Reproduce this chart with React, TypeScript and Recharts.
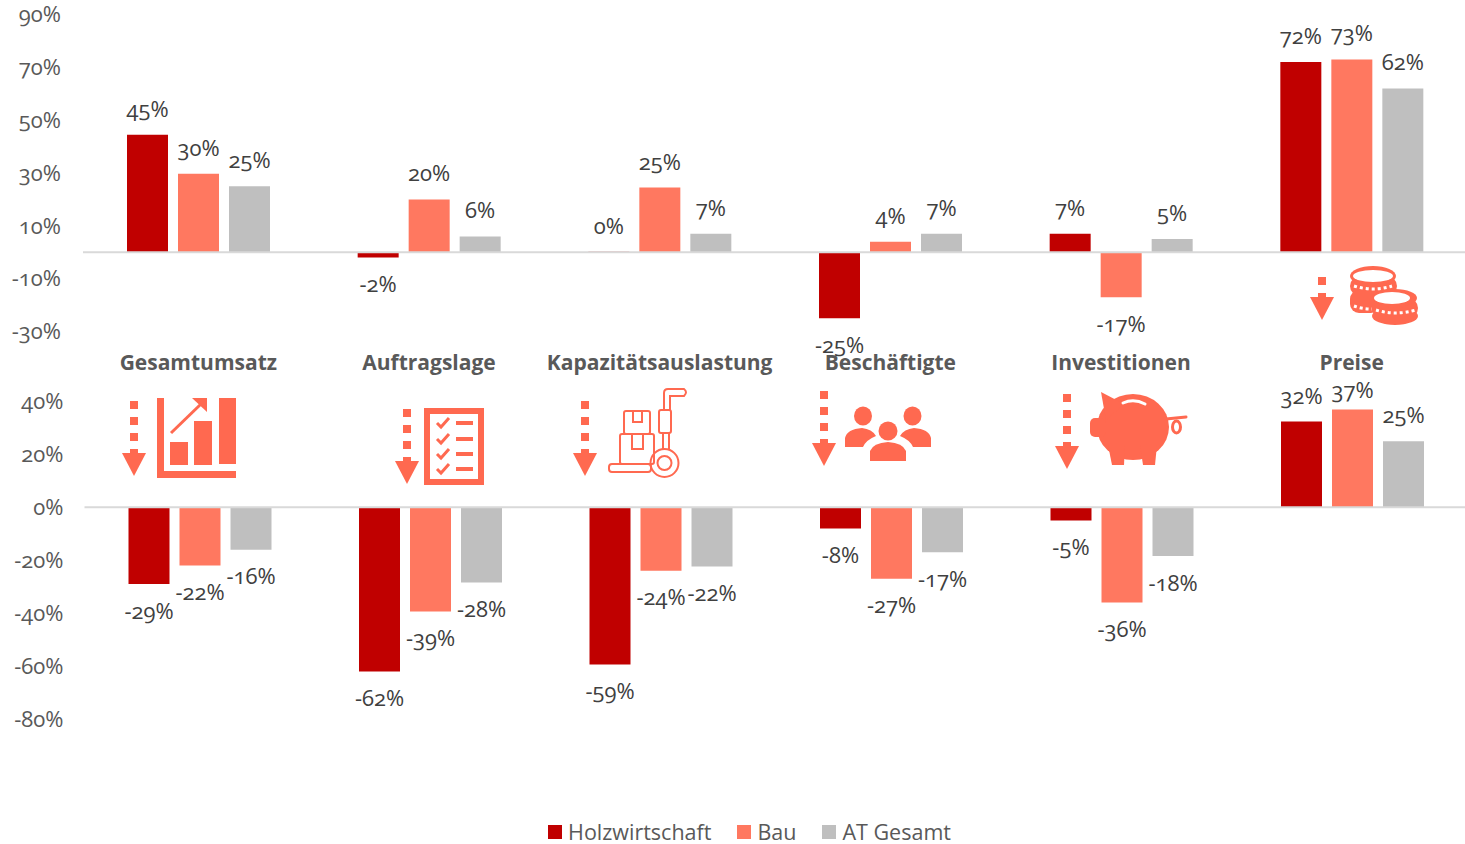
import { BarChart, Bar, XAxis, YAxis, Legend, LabelList, ReferenceLine } from 'recharts'

const categories = ['Gesamtumsatz', 'Auftragslage', 'Kapazitätsauslastung', 'Beschäftigte', 'Investitionen', 'Preise']

const holzTop = [44.5, -2, 0.2, -25, 7, 72]
const bauTop = [29.7, 20, 24.5, 4, -17, 73]
const atTop = [25, 6, 7, 7, 5, 62]
const ticksTop = [-30, -10, 10, 30, 50, 70, 90]

// lower panel
const holzBottom = [-29, -62, -59.4, -8, -5, 32.4]
const bauBottom = [-22, -39.4, -24, -27, -36, 37]
const atBottom = [-16, -28.4, -22.4, -17, -18.4, 25]
const ticksBottom = [-80, -60, -40, -20, 0, 20, 40]

const topData = categories.map((name, i) => ({ name, holz: holzTop[i], bau: bauTop[i], at: atTop[i] }))
const bottomData = categories.map((name, i) => ({ name, holz: holzBottom[i], bau: bauBottom[i], at: atBottom[i] }))

const FONT = '"Open Sans", sans-serif'
const ICON = '#FF6950'
const series = [
  { key: 'holz', name: 'Holzwirtschaft', color: '#C00000' },
  { key: 'bau', name: 'Bau', color: '#FF7860' },
  { key: 'at', name: 'AT Gesamt', color: '#BFBFBF' },
]

const tickStyle = { fontSize: 22, fill: '#595959', fontFamily: FONT }

const pct = (v: any) => `${Math.round(v)}%`

// the 37% label sits closer to its bar in the original
const nudge37 = 7

function ValueLabel(props: any) {
  const { x, y, width, value } = props
  const end = value < 0 ? y + 25.5 : y - 27 + (Math.round(value) === 37 ? nudge37 : 0)
  return (
    <text x={x + width / 2} y={end} textAnchor="middle" dominantBaseline="central" fontSize={22} fill="#404040" fontFamily={FONT}>
      {pct(value)}
    </text>
  )
}

function renderBars() {
  return series.map((s) => (
    <Bar key={s.key} dataKey={s.key} name={s.name} fill={s.color} barSize={41} isAnimationActive={false}>
      <LabelList dataKey={s.key} content={<ValueLabel />} />
    </Bar>
  ))
}

function LegendRow() {
  return (
    <div style={{ display: 'flex', justifyContent: 'center', gap: 26, height: 24, lineHeight: 1, paddingLeft: 34, alignItems: 'center', fontFamily: FONT, fontSize: 21.5, color: '#595959' }}>
      {series.map((s) => (
        <span key={s.key} style={{ display: 'flex', alignItems: 'center', gap: 6 }}>
          <span style={{ width: 14, height: 14, background: s.color, display: 'inline-block' }} />
          {s.name}
        </span>
      ))}
    </div>
  )
}

// dashed down arrow next to each pictogram
function DownArrow({ x, y, dots = 3 }: { x: number; y: number; dots?: number }) {
  const squares = Array.from({ length: dots }, (_, i) => i)
  const end = y + dots * 16
  return (
    <g fill={ICON}>
      {squares.map((i) => (
        <rect key={i} x={x - 4} y={y + i * 16} width={8} height={8} />
      ))}
      <rect x={x - 4} y={end} width={8} height={5} />
      <path d={`M${x - 12} ${end + 4}L${x + 12} ${end + 4}L${x} ${end + 27}Z`} />
    </g>
  )
}

function Icons() {
  const rows = [423, 439, 454, 469]
  return (
    <svg width={1465} height={844} style={{ position: 'absolute', left: 0, top: 0, pointerEvents: 'none' }}>
      {/* Gesamtumsatz */}
      <DownArrow x={134} y={401} />
      <g fill={ICON}>
        <path d="M157 398H164V471H236V478H157Z" />
        <rect x={170} y={442} width={18} height={23} />
        <rect x={194} y={421} width={18} height={44} />
        <rect x={219} y={398} width={17} height={66} />
        <path d="M192 398H207V412Z" />
      </g>
      <line x1={171} y1={433} x2={201} y2={404} stroke={ICON} strokeWidth={3} />

      {/* Auftragslage */}
      <DownArrow x={407} y={409} />
      <rect x={427} y={411} width={54} height={71} fill="none" stroke={ICON} strokeWidth={6} />
      {rows.map((y) => (
        <g key={y} stroke={ICON} fill="none">
          <path d={`M437 ${y}L441 ${y + 4}L449 ${y - 5}`} strokeWidth={3} />
          <line x1={456} x2={473} y1={y} y2={y} strokeWidth={4} />
        </g>
      ))}

      {/* Kapazitätsauslastung */}
      <DownArrow x={585} y={401} />
      <g fill="none" stroke={ICON} strokeWidth={2}>
        <path d="M664 410V393Q664 389 668 389H684Q688 392 684 396H670V410" />
        <rect x={659} y={410} width={12} height={23} rx={2} />
        <path d="M663 433V450M669 433V450" />
        <ellipse cx={664.5} cy={463} rx={14} ry={14} />
        <ellipse cx={664.5} cy={463} rx={7} ry={7} />
        <rect x={609} y={464} width={42} height={8} rx={3} />
        <rect x={620} y={434} width={34} height={30} rx={2} />
        <path d="M632 434V449H643V434" />
        <rect x={624} y={411} width={26} height={23} rx={2} />
        <path d="M633 411V422H642V411" />
      </g>

      {/* Beschäftigte */}
      <DownArrow x={824} y={391} />
      <g fill={ICON}>
        <ellipse cx={863} cy={416} rx={9} ry={9.5} />
        <ellipse cx={912.5} cy={416} rx={9} ry={9.5} />
        <path d="M845 447V438Q847 429 862 428Q872 429 876 436Q866 440 863 447Z" />
        <path d="M931 447V438Q929 429 914 428Q904 429 900 436Q910 440 913 447Z" />
        <ellipse cx={888} cy={431} rx={9.5} ry={9.5} />
        <path d="M870 461V451Q873 443 888 442Q903 443 906 451V461Z" />
      </g>

      {/* Investitionen */}
      <DownArrow x={1067} y={394} />
      <g fill={ICON}>
        <ellipse cx={1133} cy={427} rx={36} ry={33} />
        <path d="M1101 392L1124 404L1106 420Z" />
        <rect x={1090} y={418} width={16} height={19} rx={5} />
        <path d="M1108 445H1125L1124 465H1112Z" />
        <path d="M1140 445H1157L1155 465H1143Z" />
      </g>
      <path d="M1123 403Q1134 398 1145 404" fill="none" stroke="#fff" strokeWidth={3} strokeLinecap="round" />
      <g fill="none" stroke={ICON} strokeWidth={3}>
        <path d="M1166 419L1186 417" strokeLinecap="round" />
        <ellipse cx={1176.5} cy={427} rx={4} ry={6} />
      </g>

      {/* Preise */}
      <DownArrow x={1322} y={277} dots={1} />
      <g fill={ICON}>
        <rect x={1350} y={276} width={47} height={20} rx={10} />
        <rect x={1350} y={290} width={30} height={23} rx={9} />
        <ellipse cx={1373} cy={276} rx={23} ry={10} />
        <rect x={1372} y={298} width={46} height={20} rx={10} />
        <ellipse cx={1395} cy={298} rx={22} ry={9} />
        <ellipse cx={1395} cy={316} rx={23} ry={9} />
      </g>
      <g fill="#fff">
        <ellipse cx={1373} cy={276} rx={20} ry={6} />
        <ellipse cx={1392} cy={298} rx={18} ry={6} />
      </g>
      <g stroke="#fff" strokeWidth={3} strokeDasharray="3 3" fill="none">
        <path d="M1354 286Q1373 292 1392 286" />
        <path d="M1354 306Q1362 309 1372 309" />
        <path d="M1376 310Q1395 316 1416 310" />
      </g>
    </svg>
  )
}

export default function App() {
  return (
    <div style={{ position: 'absolute', left: 0, top: 0, width: 1465, height: 844, overflow: 'hidden', background: '#fff', fontFeatureSettings: '"onum"' }}>
      <div style={{ position: 'absolute', left: 0, top: 0 }}>
        <BarChart width={1467} height={382} data={topData} barGap={10} margin={{ top: 14.5, right: 0, bottom: 0.5, left: 0 }}>
          <XAxis
            dataKey="name"
            height={50}
            interval={0}
            axisLine={false}
            tickLine={false}
            tickMargin={18}
            tick={{ fontSize: 21, fontWeight: 700, fill: '#595959', fontFamily: FONT }}
          />
          <YAxis
            width={83}
            domain={[-30, 90]}
            ticks={ticksTop}
            interval={0}
            axisLine={false}
            tickLine={false}
            tickMargin={16}
            tickFormatter={pct}
            tick={tickStyle}
          />
          <ReferenceLine y={0} stroke="#D9D9D9" strokeWidth={2} />
          {renderBars()}
        </BarChart>
      </div>
      <div style={{ position: 'absolute', left: 0, top: 360 }}>
        <BarChart width={1467.5} height={484} data={bottomData} barGap={10} margin={{ top: 41.5, right: 0, bottom: 101, left: 0.5 }}>
          <XAxis dataKey="name" hide />
          <YAxis
            width={84}
            domain={[-80, 40]}
            ticks={ticksBottom}
            interval={0}
            axisLine={false}
            tickLine={false}
            tickMargin={15}
            tickFormatter={pct}
            tick={tickStyle}
          />
          <ReferenceLine y={0} stroke="#D9D9D9" strokeWidth={2} />
          {renderBars()}
          <Legend content={<LegendRow />} wrapperStyle={{ left: 0, width: 1465, bottom: 0 }} />
        </BarChart>
      </div>
      <Icons />
    </div>
  )
}
